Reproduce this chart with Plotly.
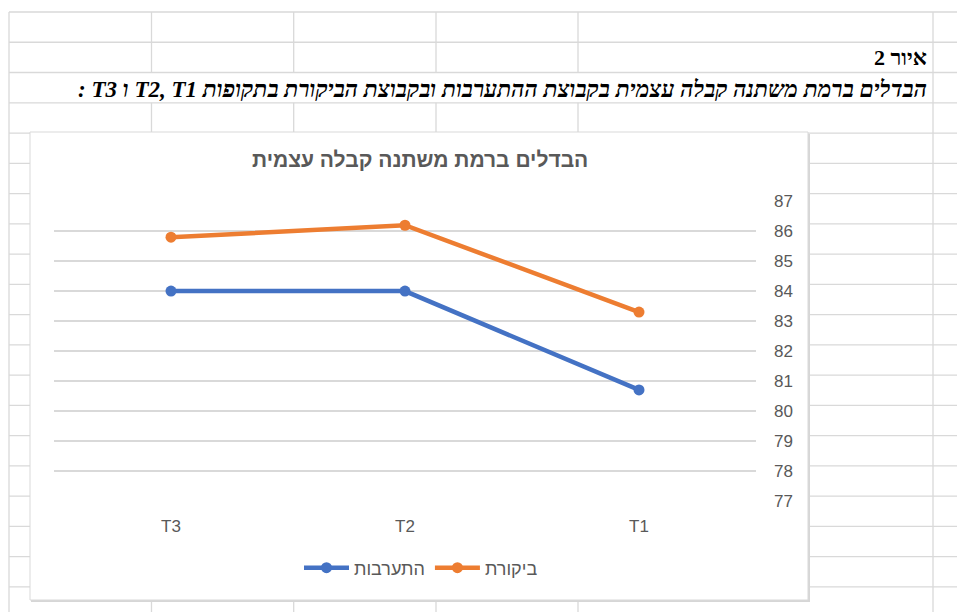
import plotly.graph_objects as go

# ---------------- data ----------------
periods = ["T3", "T2", "T1"]
intervention = [84.0, 84.0, 80.7]   # התערבות
control = [85.8, 86.2, 83.3]        # ביקורת
y_ticks = [77, 78, 79, 80, 81, 82, 83, 84, 85, 86, 87]

chart_title = "הבדלים ברמת משתנה קבלה עצמית"
fig_label = "איור 2"
caption = "הבדלים ברמת משתנה קבלה עצמית בקבוצת ההתערבות ובקבוצת הביקורת בתקופות T1\u200F ,T2 ו T3 :"
name_int = "התערבות"
name_ctl = "ביקורת"

# ---------------- geometry (pixels) ----------------
W, H = 957, 612
PL, PR, PT, PB = 54, 756, 201, 501


def px(x):
    return (x - PL) / (PR - PL)


def py(y):
    return (PB - y) / (PB - PT)


GRID = "#d9d9d9"
TXT = "#595959"
BLUE = "#4472C4"
ORANGE = "#ED7D31"
SANS = "Liberation Sans, Arial, sans-serif"
SERIF = "Liberation Serif, Times New Roman, serif"

fig = go.Figure()
fig.add_trace(go.Scatter(x=periods, y=intervention, name=name_int, mode="lines+markers",
                         line=dict(color=BLUE, width=4.5), marker=dict(color=BLUE, size=11)))
fig.add_trace(go.Scatter(x=periods, y=control, name=name_ctl, mode="lines+markers",
                         line=dict(color=ORANGE, width=4.5), marker=dict(color=ORANGE, size=11)))

shapes = []
# spreadsheet rows
row_ys = [12 + 30.26 * k for k in range(20)]
for y in row_ys:
    shapes.append(dict(type="line", xref="paper", yref="paper", x0=px(9), x1=px(W + 5),
                       y0=py(y), y1=py(y), line=dict(color=GRID, width=1.3), layer="below"))
# spreadsheet columns
cols_outer = [9, 933]
cols_inner = [151.5, 293.7, 436, 578]
for x in cols_outer:
    shapes.append(dict(type="line", xref="paper", yref="paper", x0=px(x), x1=px(x),
                       y0=py(12), y1=py(H + 5), line=dict(color=GRID, width=1.3), layer="below"))
for x in cols_inner:
    for (a, b) in [(12, 72.5), (102.8, H + 5)]:
        shapes.append(dict(type="line", xref="paper", yref="paper", x0=px(x), x1=px(x),
                           y0=py(a), y1=py(b), line=dict(color=GRID, width=1.3), layer="below"))
# chart box shadow + box
shapes.append(dict(type="rect", xref="paper", yref="paper", x0=px(31), x1=px(810),
                   y0=py(134), y1=py(602), fillcolor="#d6d6d6", line=dict(width=0), layer="below"))
shapes.append(dict(type="rect", xref="paper", yref="paper", x0=px(30), x1=px(808),
                   y0=py(132), y1=py(600), fillcolor="white", line=dict(color="#d9d9d9", width=1),
                   layer="below"))

annotations = [
    dict(text="<b>" + chart_title + "</b>", xref="paper", yref="paper", x=px(420), y=py(159),
         xanchor="center", yanchor="middle", showarrow=False,
         font=dict(family=SANS, size=21, color=TXT)),
    dict(text="<b>\u202B" + fig_label + "\u202C</b>", xref="paper", yref="paper", x=px(929), y=py(57),
         xanchor="right", yanchor="middle", showarrow=False,
         font=dict(family=SERIF, size=22, color="black")),
    dict(text="<b><i>\u202B" + caption + "\u202C</i></b>", xref="paper", yref="paper", x=px(929), y=py(89),
         xanchor="right", yanchor="middle", showarrow=False,
         font=dict(family=SERIF, size=23, color="black")),
]

fig.update_layout(
    width=W, height=H,
    margin=dict(l=PL, r=W - PR, t=PT, b=H - PB),
    paper_bgcolor="white", plot_bgcolor="rgba(0,0,0,0)",
    showlegend=True,
    legend=dict(orientation="h", x=px(421), y=py(568), xanchor="center", yanchor="middle",
                font=dict(family=SANS, size=18, color=TXT),
                bgcolor="rgba(0,0,0,0)", itemwidth=45),
    shapes=shapes, annotations=annotations,
    font=dict(family=SANS, color=TXT),
)
fig.update_xaxes(type="category", range=[-0.5, 2.5], showgrid=False, showline=False,
                 zeroline=False, ticks="", ticklabelstandoff=13,
                 tickfont=dict(family=SANS, size=17, color=TXT))
fig.update_yaxes(side="right", range=[76.99, 87.01], tickvals=y_ticks, showgrid=True,
                 gridcolor=GRID, gridwidth=1.6, showline=False, zeroline=False, ticks="",
                 ticklabelstandoff=17,
                 tickfont=dict(family=SANS, size=17, color=TXT))

fig.write_html("out.html")
